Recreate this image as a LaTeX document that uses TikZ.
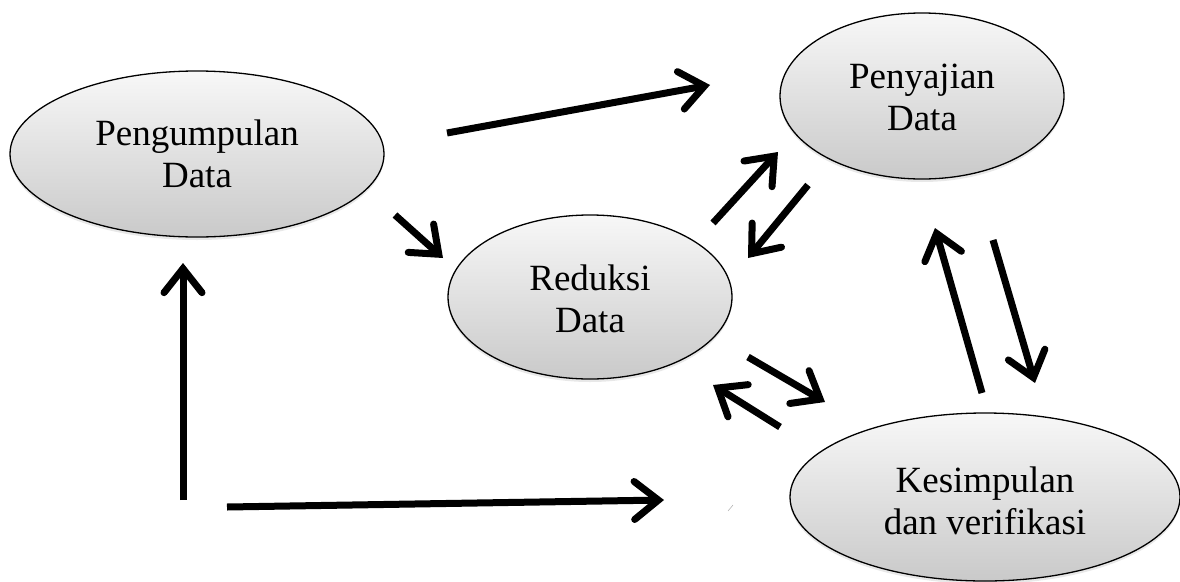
\documentclass[tikz,border=0pt]{standalone}
\usepackage{fontspec}
\setmainfont{Liberation Serif}
\usetikzlibrary{arrows.meta,shapes.geometric,shadows}
\begin{document}
\begin{tikzpicture}[x=1pt,y=-1pt,
  stage/.style={ellipse, draw=black, line width=1.3pt, top color=gray!6, bottom color=gray!42,
    inner sep=0pt, drop shadow={opacity=0.18, shadow xshift=0pt, shadow yshift=-3pt}},
  lbl/.style={align=center, font=\fontsize{37}{42}\selectfont, inner sep=0pt},
  flow/.style={line width=7pt, -{Straight Barb[length=24pt,width=38pt,line cap=round]}}]
\useasboundingbox (0,0) rectangle (1180,581);

% stages
\node[stage, minimum width=374pt, minimum height=166pt] (kumpul) at (197,154) {};
\node[stage, minimum width=284pt, minimum height=164pt] (reduksi) at (590,297) {};
\node[stage, minimum width=284pt, minimum height=166pt] (sajian) at (922,96) {};
\node[stage, minimum width=390pt, minimum height=168pt] (simpul) at (985,497) {};

\node[lbl] (kumpulT) at (kumpul.center) {Pengumpulan\\Data};
\node[lbl] (reduksiT) at ([yshift=-2pt]reduksi.center) {Reduksi\\Data};
\node[lbl] (sajianT) at ([yshift=-1pt]sajian.center) {Penyajian\\Data};
\node[lbl] (simpulT) at ([yshift=-4pt]simpul.center) {Kesimpulan\\dan verifikasi};

% arrow end points
\coordinate (a1s) at (447,133); \coordinate (a1e) at (710,85);
\coordinate (a2s) at (395,215); \coordinate (a2e) at (443,258);
\coordinate (a3s) at (713,223); \coordinate (a3e) at (778,152);
\coordinate (a4s) at (808,185); \coordinate (a4e) at (748,258);
\coordinate (a5s) at (748,357); \coordinate (a5e) at (825,402);
\coordinate (a6s) at (780,427); \coordinate (a6e) at (713,385);
\coordinate (a7s) at (982,393); \coordinate (a7e) at (935,228);
\coordinate (a8s) at (993,240); \coordinate (a8e) at (1035,383);
\coordinate (a9s) at (183,500); \coordinate (a9e) at (183,263);
\coordinate (a10s) at (227,507); \coordinate (a10e) at (664,500);

\foreach \a in {a1,a2,a3,a4,a5,a6,a7,a8,a9,a10}
  \draw[flow] (\a s) -- (\a e);

% small stray stroke
\coordinate (m1) at (728,511); \coordinate (m2) at (733,505);
\draw[gray!60, line width=0.6pt] (m1) -- (m2);
\end{tikzpicture}
\end{document}
